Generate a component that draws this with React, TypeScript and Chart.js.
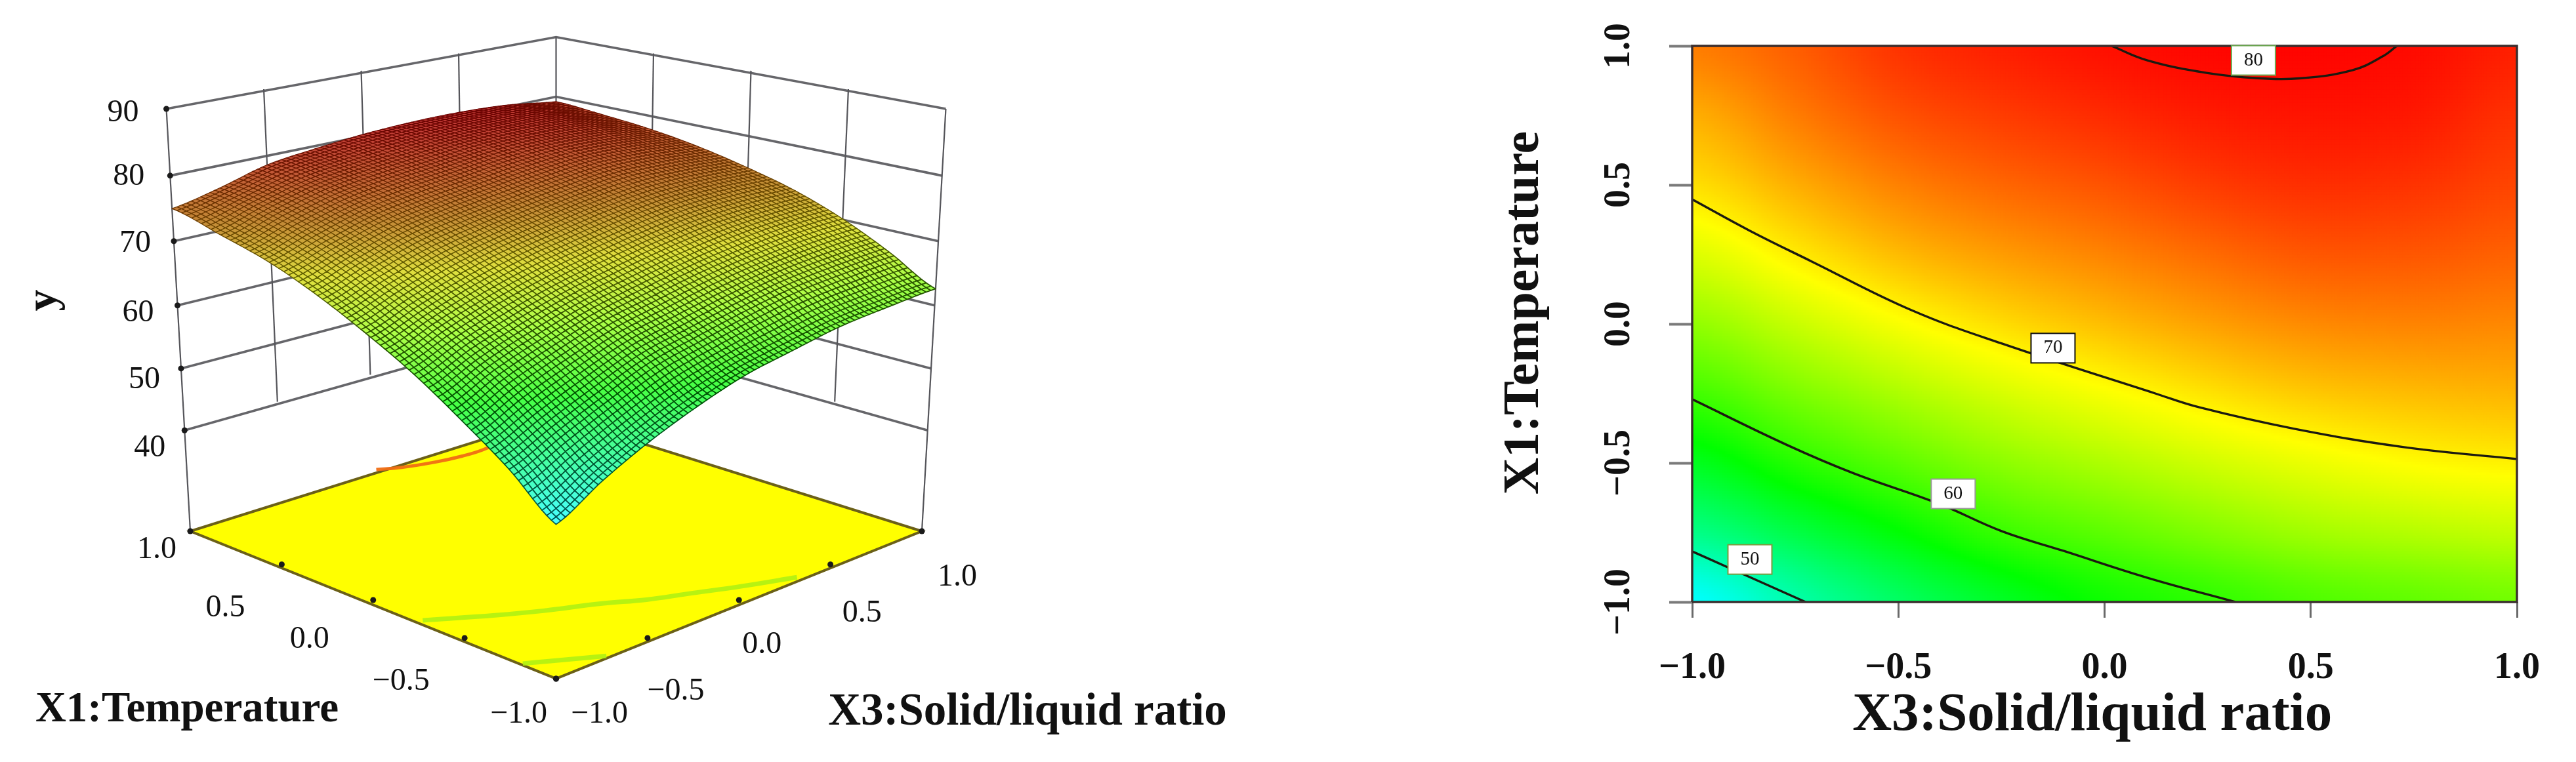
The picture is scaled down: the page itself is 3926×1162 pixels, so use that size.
import React, { useEffect, useRef } from "react";
import { Chart, registerables } from "chart.js";
Chart.register(...registerables);

// ---------- values ----------
const x3Levels = [-1, -0.75, -0.5, -0.25, 0, 0.25, 0.5, 0.75, 1];
const x1Levels = [-1, -0.75, -0.5, -0.25, 0, 0.25, 0.5, 0.75, 1];
const responseAtX1m100 = [46.0, 49.7, 52.9, 55.6, 57.9, 59.4, 60.9, 61.8, 62.6];
const responseAtX1m075 = [51.3, 54.2, 57.1, 59.9, 61.6, 63.3, 64.8, 65.7, 66.4];
const responseAtX1m050 = [55.9, 59.0, 61.5, 63.8, 65.4, 67.0, 68.3, 69.3, 69.8];
const responseAtX1m025 = [60.3, 63.0, 65.3, 67.3, 68.9, 70.4, 71.6, 72.2, 72.5];
const responseAtX1p000 = [64.1, 66.6, 68.9, 70.7, 72.1, 73.4, 74.4, 74.7, 74.5];
const responseAtX1p025 = [67.6, 70.0, 72.2, 73.6, 74.7, 75.8, 76.7, 76.7, 76.2];
const responseAtX1p050 = [70.6, 72.8, 74.8, 76.0, 76.9, 77.9, 78.5, 78.3, 77.5];
const responseAtX1p075 = [72.8, 75.0, 76.9, 77.9, 78.7, 79.4, 79.7, 79.5, 78.4];
const responseAtX1p100 = [75.0, 76.4, 78.3, 79.2, 79.9, 80.3, 80.4, 80.1, 79.2];
const responseRows = [
  responseAtX1m100, responseAtX1m075, responseAtX1m050, responseAtX1m025, responseAtX1p000,
  responseAtX1p025, responseAtX1p050, responseAtX1p075, responseAtX1p100,
];

const contour50 = [[-1, -0.818], [-0.914, -0.875], [-0.725, -1]];
const contour60 = [[-1, -0.271], [-0.769, -0.436], [-0.607, -0.538], [-0.403, -0.646], [-0.25, -0.745], [-0.1, -0.816], [0.104, -0.913], [0.317, -1]];
const contour70 = [[-1, 0.448], [-0.86, 0.335], [-0.712, 0.226], [-0.469, 0.05], [-0.25, -0.07], [0.123, -0.25], [0.23, -0.3], [0.46, -0.377], [0.726, -0.443], [1, -0.486]];
const contour80 = [[0.017, 1], [0.104, 0.948], [0.247, 0.903], [0.371, 0.884], [0.478, 0.884], [0.602, 0.913], [0.674, 0.962], [0.709, 1]];

const contourLabels = ["50", "60", "70", "80"];
const contourLabelX3 = [-0.86, -0.367, -0.125, 0.361];
const contourLabelX1 = [-0.847, -0.611, -0.087, 0.948];

const yTicks3d = [40, 50, 60, 70, 80, 90];
const floorTicks = [-1, -0.5, 0, 0.5, 1];

// ---------- colour map and surface lookup ----------
const colourStops: [number, number[]][] = [
  [46, [0, 255, 255]], [57.3, [0, 255, 0]], [69.2, [255, 255, 0]], [80.6, [255, 0, 0]],
];
function rampRgb(z: number) {
  if (z <= colourStops[0][0]) return colourStops[0][1];
  for (let i = 1; i < colourStops.length; i++) {
    if (z <= colourStops[i][0]) {
      const [a, ca] = colourStops[i - 1];
      const [b, cb] = colourStops[i];
      const f = (z - a) / (b - a);
      return ca.map((c, k) => c + (cb[k] - c) * f);
    }
  }
  return colourStops[3][1];
}
const css = (c: number[]) => `rgb(${Math.round(c[0])},${Math.round(c[1])},${Math.round(c[2])})`;

function catmull(p0: number, p1: number, p2: number, p3: number, t: number) {
  return 0.5 * (2 * p1 + (p2 - p0) * t + (2 * p0 - 5 * p1 + 4 * p2 - p3) * t * t + (3 * p1 - p0 - 3 * p2 + p3) * t * t * t);
}
function surfaceAt(x3: number, x1: number) {
  const n = x3Levels.length - 1;
  const fx = Math.min(n - 1e-6, Math.max(0, (x3 + 1) * 4));
  const fy = Math.min(n - 1e-6, Math.max(0, (x1 + 1) * 4));
  const ix = Math.floor(fx), iy = Math.floor(fy);
  const c = (r: number, q: number) => responseRows[Math.max(0, Math.min(n, r))][Math.max(0, Math.min(n, q))];
  const row = (r: number) => catmull(c(r, ix - 1), c(r, ix), c(r, ix + 1), c(r, ix + 2), fx - ix);
  return catmull(row(iy - 1), row(iy), row(iy + 1), row(iy + 2), fy - iy);
}

// ---------- camera for the 3-D view ----------
const Z_FLOOR = 23.3, Z_TOP = 90;
function project(u: number, v: number, z: number) {
  const zn = (z - Z_FLOOR) / (Z_TOP - Z_FLOOR);
  const s = (u - v) / 2, t = (u + v) / 2;
  const wx = 1 - 0.0614 * zn;
  const wy = 1 + 0.125 * t - 0.0614 * zn;
  return { x: 847.5 + (557.5 * s) / wx, y: (810 - 95.6 * t - 654.2 * zn) / wy };
}

const SERIF = '"Liberation Serif", serif';
function text(ctx: CanvasRenderingContext2D, s: string, x: number, y: number, font: string, rot = 0) {
  ctx.save();
  ctx.translate(x, y);
  ctx.rotate(rot);
  ctx.font = font;
  ctx.fillStyle = "#111";
  ctx.textAlign = "center";
  ctx.textBaseline = "middle";
  ctx.fillText(s, 0, 0);
  ctx.restore();
}
const fmt = (v: number) => (v < 0 ? "\u2212" : "") + Math.abs(v).toFixed(1);

const MESH = 80;
const GRID_HORIZ = "rgba(85,85,90,0.9)";
const GRID_VERT = "#55555a";

function build3d(canvas: HTMLCanvasElement) {
  const line = (pts: { x: number; y: number }[], color: string, width: number, extra = {}) => ({
    data: pts, showLine: true, borderColor: color, borderWidth: width, pointRadius: 0, clip: false, tension: 0, ...extra,
  });
  const datasets: any[] = [];
  const dots = [
    ...yTicks3d.map((z) => project(-1, 1, z)),
    ...floorTicks.map((t) => project(-1, t, Z_FLOOR)),
    ...floorTicks.map((t) => project(t, -1, Z_FLOOR)),
  ];
  datasets.push({ data: dots, pointRadius: 4.5, pointBackgroundColor: "#1a1a1a", pointBorderWidth: 0, showLine: false, clip: false, order: 0 });
  const onFloor = (c: number[][]) => c.map(([a, b]) => project(a, b, Z_FLOOR));
  datasets.push({ ...line(onFloor(contour50), "rgba(170,240,20,0.85)", 7, { tension: 0.4 }), order: 1 });
  datasets.push({ ...line(onFloor(contour60), "rgba(170,240,20,0.85)", 7, { tension: 0.4 }), order: 1 });
  datasets.push({ ...line(onFloor(contour80), "rgba(240,110,20,0.95)", 5, { tension: 0.4 }), order: 1 });
  const floor = [project(-1, -1, Z_FLOOR), project(1, -1, Z_FLOOR), project(1, 1, Z_FLOOR), project(-1, 1, Z_FLOOR), project(-1, -1, Z_FLOOR)];
  datasets.push({ ...line(floor, "#6b6018", 4, { fill: "shape", backgroundColor: "#ffff00" }), order: 2 });
  for (const z of yTicks3d) {
    datasets.push({ ...line([project(-1, 1, z), project(1, 1, z), project(1, -1, z)], GRID_HORIZ, 3.6), order: 3 });
  }
  const wallV: [number, number][] = [[-0.5, 1], [0, 1], [0.5, 1], [1, 1], [1, 0.5], [1, 0], [1, -0.5]];
  for (const [u, v] of wallV) {
    datasets.push({ ...line([project(u, v, 40), project(u, v, 90)], GRID_VERT, 2.2), order: 3 });
  }
  datasets.push({ ...line([project(-1, 1, Z_FLOOR), project(-1, 1, 90)], GRID_VERT, 2.2), order: 3 });
  datasets.push({ ...line([project(1, -1, Z_FLOOR), project(1, -1, 90)], GRID_VERT, 2.2), order: 3 });

  const nodes: { x: number; y: number }[] = [];
  const heights: number[] = [];
  for (let j = 0; j <= MESH; j++) {
    for (let i = 0; i <= MESH; i++) {
      const u = -1 + (2 * i) / MESH, v = -1 + (2 * j) / MESH;
      const z = surfaceAt(u, v);
      heights.push(z);
      nodes.push(project(u, v, z));
    }
  }
  const surfaceSet = { data: nodes, pointRadius: 0, showLine: false, clip: false, order: 4, label: "surface" };
  datasets.push(surfaceSet);

  const meshPlugin = {
    id: "mesh",
    afterDatasetsDraw(chart: any) {
      const ctx = chart.ctx;
      const idx = chart.data.datasets.indexOf(surfaceSet);
      const pts = chart.getDatasetMeta(idx).data;
      const at = (i: number, j: number) => j * (MESH + 1) + i;
      ctx.save();
      ctx.lineJoin = "round";
      for (let j = MESH - 1; j >= 0; j--) {
        for (let i = MESH - 1; i >= 0; i--) {
          const k = [at(i, j), at(i + 1, j), at(i + 1, j + 1), at(i, j + 1)];
          const z = (heights[k[0]] + heights[k[1]] + heights[k[2]] + heights[k[3]]) / 4;
          const c = rampRgb(z);
          const upper = Math.min(1, Math.max(0, (z - 64) / 10));
          const shade = 1 - 0.24 * upper;
          ctx.beginPath();
          ctx.moveTo(pts[k[0]].x, pts[k[0]].y);
          for (let q = 1; q < 4; q++) ctx.lineTo(pts[k[q]].x, pts[k[q]].y);
          ctx.closePath();
          const fillC = c.map((v: number) => (v * 0.72 + 255 * 0.28) * shade);
          ctx.fillStyle = css(fillC);
          ctx.fill();
          ctx.strokeStyle = css(c.map((v: number) => v * (0.34 + 0.08 * upper)));
          ctx.lineWidth = 1.7 - 0.45 * upper;
          ctx.stroke();
        }
      }
      ctx.restore();
      const tick = `48px ${SERIF}`;
      const yOff = [[-53, 27], [-56, 17], [-60, 12], [-59, 4], [-63, 2], [-66, 6]];
      yTicks3d.forEach((z, i) => {
        const p = project(-1, 1, z);
        const sx = chart.scales.x.getPixelForValue(p.x), sy = chart.scales.y.getPixelForValue(p.y);
        text(ctx, String(z), sx + yOff[i][0], sy + yOff[i][1], tick);
      });
      const x1Off = [[-57, 54], [-97, 66], [-97, 60], [-86, 67], [-51, 28]];
      floorTicks.forEach((t, i) => {
        const p = project(-1, t, Z_FLOOR);
        text(ctx, fmt(t), chart.scales.x.getPixelForValue(p.x) + x1Off[i][0], chart.scales.y.getPixelForValue(p.y) + x1Off[i][1], tick);
      });
      const x3Off = [[66, 54], [43, 81], [35, 68], [48, 75], [54, 70]];
      floorTicks.forEach((t, i) => {
        const p = project(t, -1, Z_FLOOR);
        text(ctx, fmt(t), chart.scales.x.getPixelForValue(p.x) + x3Off[i][0], chart.scales.y.getPixelForValue(p.y) + x3Off[i][1], tick);
      });
      text(ctx, "y", 68, 458, `bold 66px ${SERIF}`, -Math.PI / 2);
      text(ctx, "X1:Temperature", 285, 1083, `bold 65px ${SERIF}`);
      text(ctx, "X3:Solid/liquid ratio", 1566, 1087, `bold 69px ${SERIF}`);
    },
  };

  return new Chart(canvas, {
    type: "scatter",
    data: { datasets },
    plugins: [meshPlugin],
    options: {
      animation: false,
      responsive: false,
      devicePixelRatio: 1,
      events: [],
      layout: { padding: 0, autoPadding: false },
      plugins: { legend: { display: false }, tooltip: { enabled: false } },
      scales: {
        x: { type: "linear", min: 0, max: canvas.width, display: false },
        y: { type: "linear", min: 0, max: canvas.height, reverse: true, display: false },
      },
    },
  } as any);
}

function buildContour(canvas: HTMLCanvasElement) {
  const NX = 315, NY = 213;
  const cells: { x: number; y: number }[] = [];
  const cellColours: string[] = [];
  for (let j = 0; j < NY; j++) {
    for (let i = 0; i < NX; i++) {
      const a = -1 + (2 * i) / (NX - 1), b = -1 + (2 * j) / (NY - 1);
      cells.push({ x: a, y: b });
      cellColours.push(css(rampRgb(surfaceAt(a, b))));
    }
  }
  const toPts = (c: number[][]) => c.map(([x, y]) => ({ x, y }));
  const contourSet = (c: number[][]) => ({
    data: toPts(c), showLine: true, borderColor: "#1c1a10", borderWidth: 3.4, pointRadius: 0, tension: 0.4, order: 1,
  });
  const frame = toPts([[-1, -1], [-1, 1], [1, 1], [1, -1], [-1, -1]]);
  const datasets: any[] = [
    { data: frame, showLine: true, borderColor: "#3a2e2e", borderWidth: 3.4, pointRadius: 0, clip: false, tension: 0, order: 0 },
    contourSet(contour50), contourSet(contour60), contourSet(contour70), contourSet(contour80),
    {
      data: cells, showLine: false, pointStyle: "rect", pointRadius: 3.5, pointBorderWidth: 0,
      pointBackgroundColor: cellColours, order: 2,
    },
  ];
  const labelBorders = ["#7f9a40", "#9a9a9a", "#111", "#6aa84f"];
  const boxPlugin = {
    id: "boxes",
    afterDatasetsDraw(chart: any) {
      const ctx = chart.ctx;
      const sx = chart.scales.x, sy = chart.scales.y;
      contourLabels.forEach((s, i) => {
        const px = sx.getPixelForValue(contourLabelX3[i]), py = sy.getPixelForValue(contourLabelX1[i]);
        ctx.save();
        ctx.fillStyle = "#fff";
        ctx.strokeStyle = labelBorders[i];
        ctx.lineWidth = 2;
        ctx.fillRect(px - 33.5, py - 22.5, 67, 45);
        ctx.strokeRect(px - 33.5, py - 22.5, 67, 45);
        ctx.restore();
        text(ctx, s, px, py, `29px ${SERIF}`);
      });
      text(ctx, "X3:Solid/liquid ratio", sx.getPixelForValue(-0.03), 1092, `bold 83px ${SERIF}`);
      text(ctx, "X1:Temperature", 124, sy.getPixelForValue(0.04), `bold 78px ${SERIF}`, -Math.PI / 2);
    },
  };
  const tickFont = { family: "Liberation Serif", size: 56, weight: "bold" };
  return new Chart(canvas, {
    type: "scatter",
    data: { datasets },
    plugins: [boxPlugin],
    options: {
      animation: false,
      responsive: false,
      devicePixelRatio: 1,
      events: [],
      layout: { padding: { left: 0, top: 70, right: 90, bottom: 0 }, autoPadding: false },
      plugins: { legend: { display: false }, tooltip: { enabled: false } },
      scales: {
        x: {
          type: "linear", min: -1, max: 1,
          afterFit: (s: any) => { s.height = 244; s.paddingLeft = 0; s.paddingRight = 0; },
          border: { display: false },
          grid: { drawOnChartArea: false, drawTicks: true, tickLength: 24, tickWidth: 3, tickColor: "#6a6a6a" },
          ticks: { stepSize: 0.5, font: tickFont, color: "#111", padding: 44, maxRotation: 0, callback: (v: any) => fmt(Number(v)) },
        },
        y: {
          type: "linear", min: -1, max: 1,
          afterFit: (s: any) => { s.width = 379; s.paddingTop = 0; s.paddingBottom = 0; },
          border: { display: false },
          grid: { drawOnChartArea: false, drawTicks: true, tickLength: 35, tickWidth: 4, tickColor: "#7a7a7a" },
          ticks: {
            stepSize: 0.5, font: tickFont, color: "#111", padding: 25, minRotation: 90, maxRotation: 90,
            crossAlign: "center", callback: (v: any) => fmt(Number(v)),
          },
        },
      },
    },
  } as any);
}

export default function App() {
  const left = useRef<HTMLCanvasElement>(null);
  const right = useRef<HTMLCanvasElement>(null);
  useEffect(() => {
    const a = build3d(left.current!);
    const b = buildContour(right.current!);
    return () => { a.destroy(); b.destroy(); };
  }, []);
  return (
    <div style={{ position: "fixed", left: 0, top: 0, width: 3926, height: 1162, background: "#fff", overflow: "hidden" }}>
      <canvas ref={left} width={2000} height={1162} style={{ position: "absolute", left: 0, top: 0, display: "block" }} />
      <canvas ref={right} width={1726} height={1162} style={{ position: "absolute", left: 2200, top: 0, display: "block" }} />
    </div>
  );
}
